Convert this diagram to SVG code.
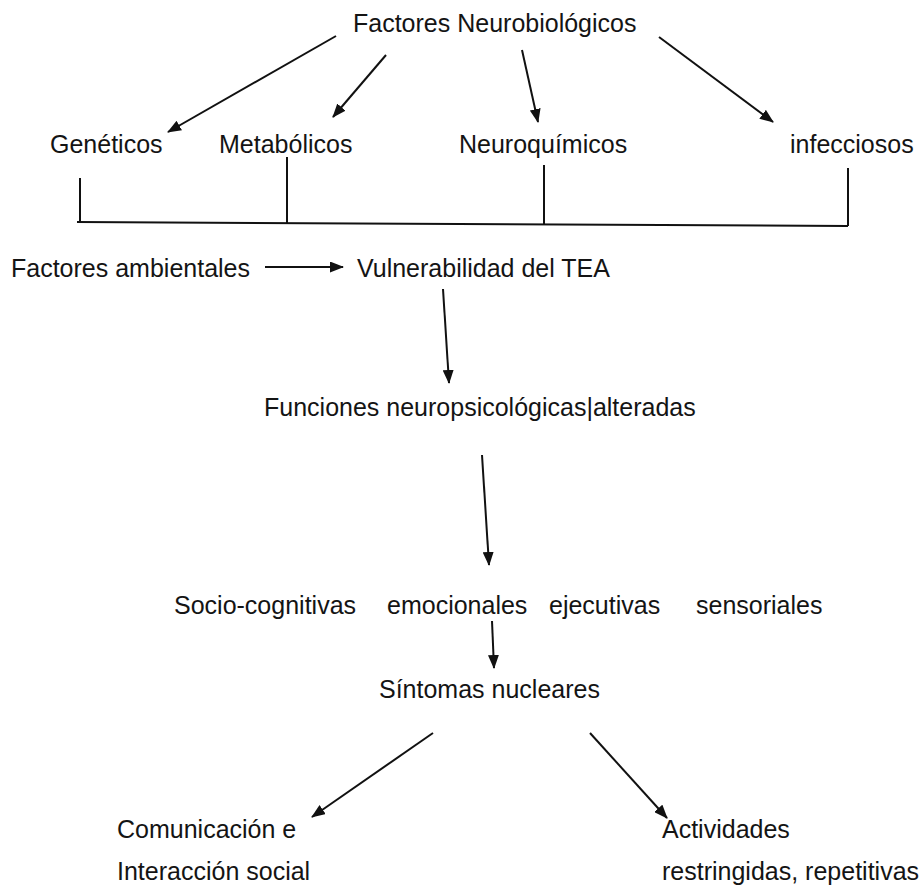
<svg xmlns="http://www.w3.org/2000/svg" width="923" height="888" viewBox="0 0 923 888">
  <style>
    text { font-family: "Liberation Sans", Arial, sans-serif; font-size: 25px; fill: #141414; }
    .ln { stroke: #111; stroke-width: 2; fill: none; }
    .ar { stroke: #111; stroke-width: 2; fill: none; marker-end: url(#ah); }
  </style>
  <defs>
    <marker id="ah" markerUnits="userSpaceOnUse" markerWidth="14" markerHeight="11" refX="13" refY="5.5" orient="auto">
      <path d="M0,0 L14,5.5 L0,11 Z" fill="#111"/>
    </marker>
  </defs>
  <rect width="923" height="888" fill="#fff"/>

  <g id="factores-neurobiologicos"><text x="353" y="32">Factores Neurobiológicos</text></g>
  <g id="geneticos"><text x="50" y="153">Genéticos</text></g>
  <g id="metabolicos"><text x="219" y="153">Metabólicos</text></g>
  <g id="neuroquimicos"><text x="459" y="153">Neuroquímicos</text></g>
  <g id="infecciosos"><text x="790" y="153">infecciosos</text></g>
  <g id="factores-ambientales"><text x="11" y="277">Factores ambientales</text></g>
  <g id="vulnerabilidad"><text x="357" y="277">Vulnerabilidad del TEA</text></g>
  <g id="funciones"><text x="264" y="416">Funciones neuropsicológicas|alteradas</text></g>
  <g id="socio-cognitivas"><text x="174" y="614">Socio-cognitivas</text></g>
  <g id="emocionales"><text x="387" y="614">emocionales</text></g>
  <g id="ejecutivas"><text x="549" y="614">ejecutivas</text></g>
  <g id="sensoriales"><text x="696" y="614">sensoriales</text></g>
  <g id="sintomas"><text x="379" y="698">Síntomas nucleares</text></g>
  <g id="comunicacion"><text x="117" y="838">Comunicación e</text><text x="117" y="880">Interacción social</text></g>
  <g id="actividades"><text x="662" y="838">Actividades</text><text x="662" y="880">restringidas, repetitivas</text></g>

  <g id="connectors">
    <line class="ar" x1="336" y1="36" x2="168" y2="132"/>
    <line class="ar" x1="386" y1="55" x2="333" y2="117"/>
    <line class="ar" x1="522" y1="50" x2="538" y2="122"/>
    <line class="ar" x1="659" y1="37" x2="773" y2="122"/>
    <line class="ln" x1="80" y1="178" x2="80" y2="222"/>
    <line class="ln" x1="287" y1="157" x2="287" y2="223"/>
    <line class="ln" x1="544" y1="165" x2="544" y2="225"/>
    <line class="ln" x1="848" y1="168" x2="848" y2="226"/>
    <line class="ln" x1="77" y1="222" x2="848" y2="226"/>
    <line class="ar" x1="265" y1="267" x2="343" y2="267"/>
    <line class="ar" x1="443" y1="289" x2="449" y2="383"/>
    <line class="ar" x1="482" y1="455" x2="489" y2="565"/>
    <line class="ar" x1="492" y1="621" x2="494" y2="668"/>
    <line class="ar" x1="433" y1="733" x2="312" y2="817"/>
    <line class="ar" x1="590" y1="733" x2="667" y2="818"/>
  </g>
</svg>
